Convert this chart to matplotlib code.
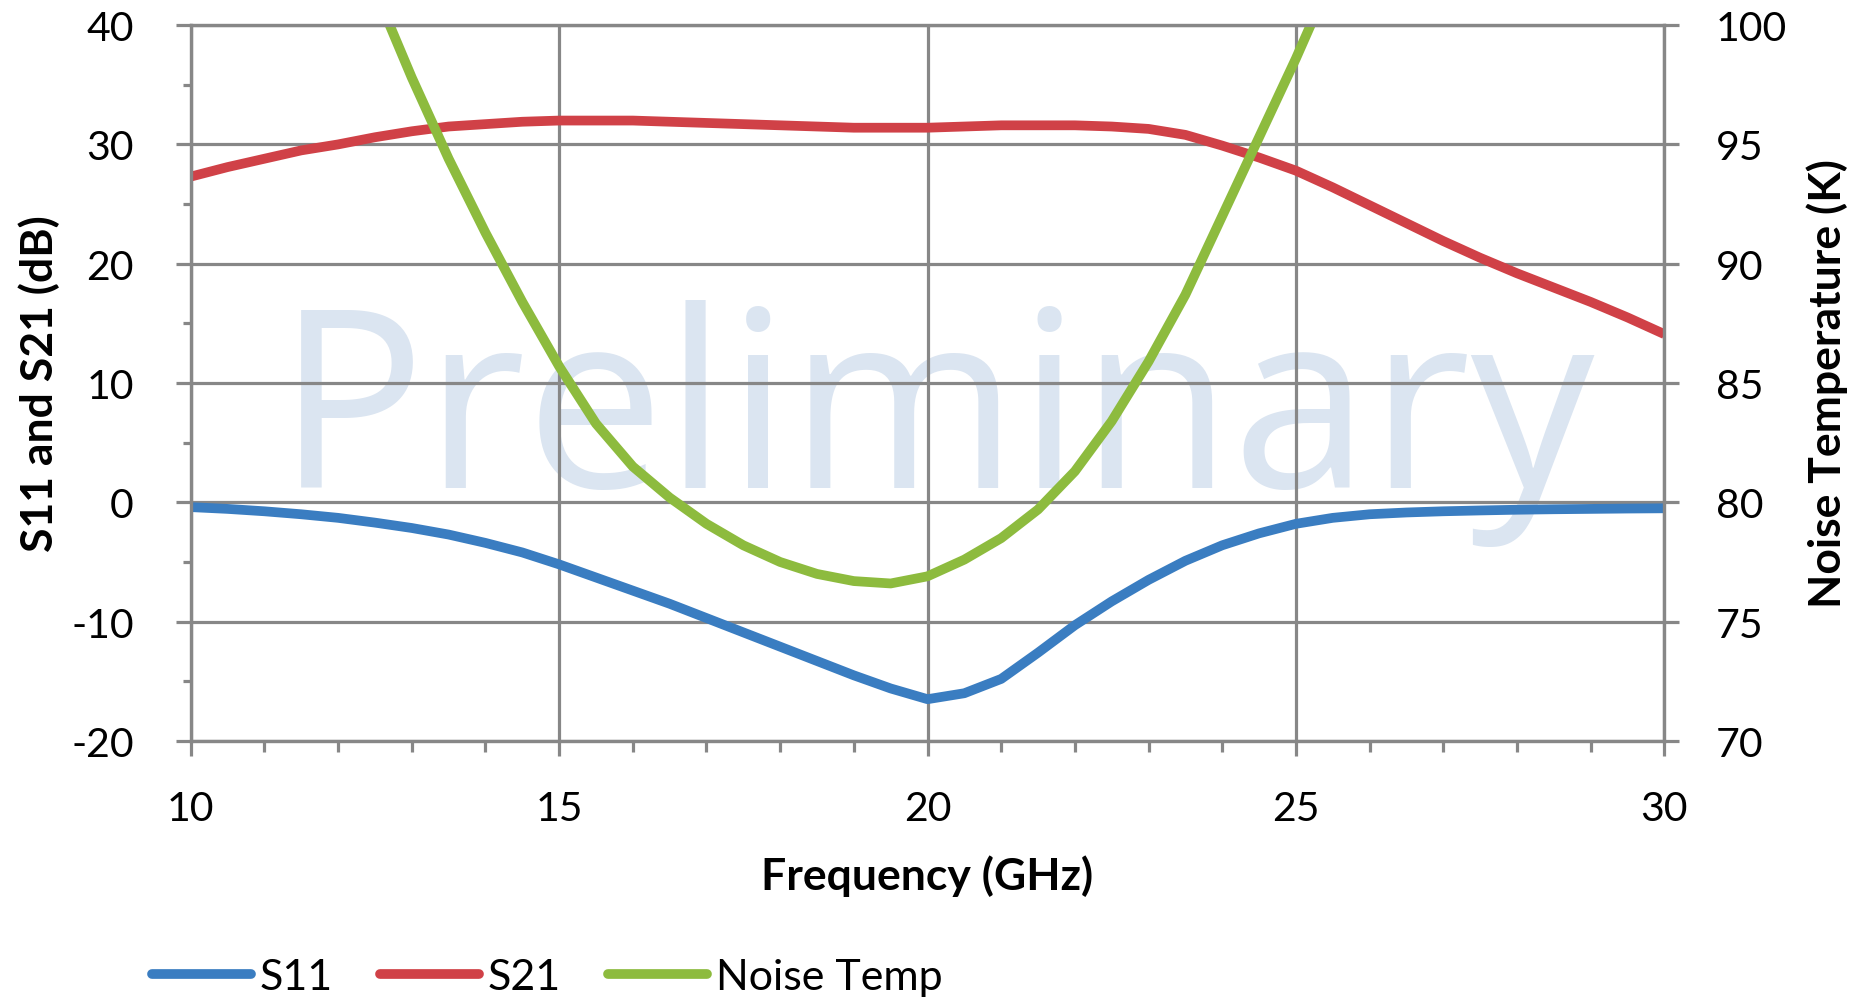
import matplotlib
matplotlib.use('Agg')
import matplotlib.pyplot as plt
from matplotlib.ticker import MultipleLocator

# DATA
freq_s = [10, 10.5, 11, 11.5, 12, 12.5, 13, 13.5, 14, 14.5, 15, 15.5, 16, 16.5,
          17, 17.5, 18, 18.5, 19, 19.5, 20, 20.5, 21, 21.5, 22, 22.5, 23, 23.5,
          24, 24.5, 25, 25.5, 26, 26.5, 27, 27.5, 28, 28.5, 29, 29.5, 30]
s11 = [-0.4, -0.55, -0.75, -1.0, -1.3, -1.7, -2.15, -2.7, -3.4, -4.2, -5.2, -6.3,
       -7.4, -8.5, -9.7, -10.9, -12.1, -13.3, -14.5, -15.6, -16.5, -16.0, -14.8,
       -12.6, -10.3, -8.3, -6.5, -4.9, -3.6, -2.6, -1.8, -1.3, -1.0, -0.85, -0.75,
       -0.68, -0.62, -0.58, -0.55, -0.52, -0.5]
s21 = [27.3, 28.1, 28.8, 29.5, 30.0, 30.6, 31.1, 31.5, 31.7, 31.9, 32.0, 32.0,
       32.0, 31.9, 31.8, 31.7, 31.6, 31.5, 31.4, 31.4, 31.4, 31.5, 31.6, 31.6,
       31.6, 31.5, 31.3, 30.8, 29.9, 28.9, 27.8, 26.4, 24.9, 23.4, 21.9, 20.5,
       19.2, 18.0, 16.8, 15.5, 14.1]
freq_nt = [12.7, 13, 13.5, 14, 14.5, 15, 15.5, 16, 16.5, 17, 17.5, 18, 18.5, 19,
           19.5, 20, 20.5, 21, 21.5, 22, 22.5, 23, 23.5, 24, 24.5, 25, 25.2]
noise_temp = [100.0, 97.8, 94.4, 91.3, 88.4, 85.7, 83.3, 81.5, 80.2, 79.1, 78.2,
              77.5, 77.0, 76.7, 76.6, 76.9, 77.6, 78.5, 79.7, 81.3, 83.4, 85.9,
              88.7, 92.0, 95.3, 98.6, 100.0]

# STYLE
plt.rcParams['font.family'] = ['Lato', 'DejaVu Sans']
plt.rcParams['axes.unicode_minus'] = False
grey = '#878787'
blue, red, green = '#3a7dc1', '#d04147', '#8dbb3e'
lw = 7.0
fs = 29.5      # tick labels
fs_lab = 32    # axis titles
fs_leg = 31    # legend

fig = plt.figure(figsize=(18.7, 10.04), dpi=100)
ax = fig.add_axes([0.102, 0.261, 0.788, 0.713])
ax2 = ax.twinx()

# watermark
ax.text(0.506, 0.445, 'Preliminary', transform=ax.transAxes, fontsize=178,
        color='#dbe5f1', ha='center', va='center', zorder=0,
        family=['Open Sans', 'DejaVu Sans'])

l1, = ax.plot(freq_s, s11, color=blue, lw=lw, solid_capstyle='butt',
              solid_joinstyle='round', label='S11')
l2, = ax.plot(freq_s, s21, color=red, lw=lw, solid_capstyle='butt',
              solid_joinstyle='round', label='S21')
l3, = ax2.plot(freq_nt, noise_temp, color=green, lw=lw, solid_capstyle='butt',
               solid_joinstyle='round', label='Noise Temp')

ax.set_xlim(10, 30)
ax.set_ylim(-20, 40)
ax2.set_ylim(70, 100)

ax.xaxis.set_major_locator(MultipleLocator(5))
ax.xaxis.set_minor_locator(MultipleLocator(1))
ax.yaxis.set_major_locator(MultipleLocator(10))
ax.yaxis.set_minor_locator(MultipleLocator(5))
ax2.yaxis.set_major_locator(MultipleLocator(5))

ax.set_axisbelow(True)
ax.grid(True, which='major', color=grey, lw=2.3)

for a in (ax, ax2):
    for sp in a.spines.values():
        sp.set_color(grey)
        sp.set_linewidth(2.3)

ax.tick_params(axis='x', which='major', direction='out', length=11, width=2.3,
               color=grey, labelsize=fs, pad=24)
ax.tick_params(axis='x', which='minor', direction='out', length=8, width=2.3,
               color=grey)
ax.tick_params(axis='y', which='major', direction='out', length=11, width=2.3,
               color=grey, labelsize=fs, pad=30)
ax.tick_params(axis='y', which='minor', direction='out', length=6, width=2.3,
               color=grey)
ax2.tick_params(axis='y', which='major', direction='out', length=11, width=2.3,
                color=grey, labelsize=fs, pad=26)

ax.set_xlabel('Frequency (GHz)', fontsize=fs_lab, fontweight='bold', labelpad=20)
ax.set_ylabel('S11 and S21 (dB)', fontsize=fs_lab, fontweight='bold', labelpad=8)
ax2.set_ylabel('Noise Temperature (K)', fontsize=fs_lab, fontweight='bold',
               labelpad=14)

leg = fig.legend(handles=[l1, l2, l3], loc='center left',
                 bbox_to_anchor=(0.072, 0.026), ncol=3, frameon=False,
                 fontsize=fs_leg, handlelength=2.3, handletextpad=0.2,
                 columnspacing=1.1, borderaxespad=0)
for h in leg.get_lines():
    h.set_solid_capstyle('round')

fig.savefig('out.png', dpi=100)
